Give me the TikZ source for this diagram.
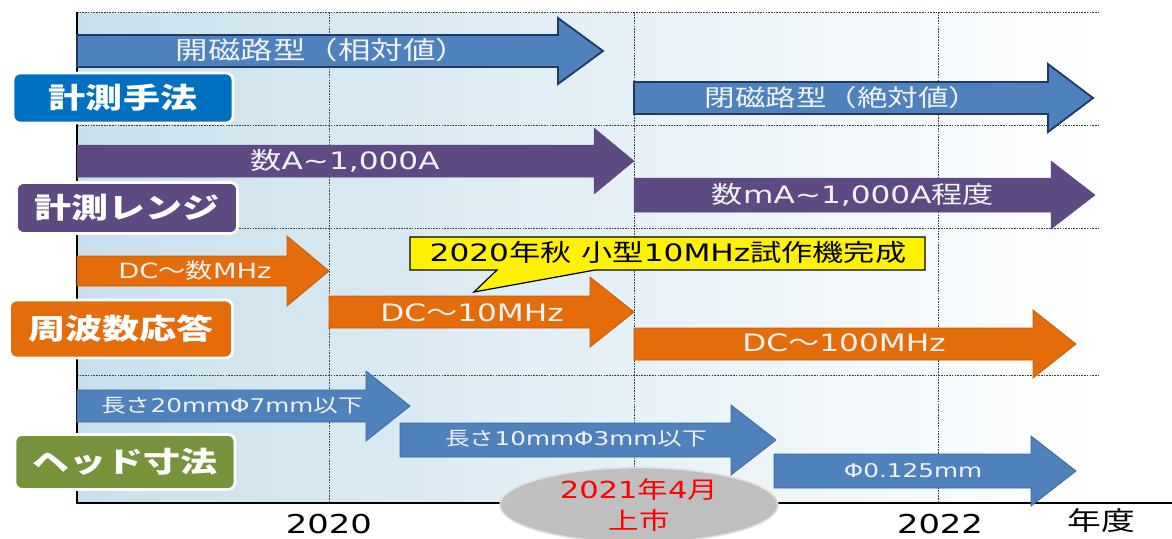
\documentclass[tikz,border=0pt]{standalone}
\usepackage{fontspec}
\setmainfont{DejaVu Sans}[FakeStretch=1.3]
\newfontfamily\ja{Noto Sans CJK JP}[FakeStretch=1.3]
\usepackage{tikz}
\usetikzlibrary{shapes.geometric,shadows}
\definecolor{hblue}{HTML}{4F81BD}
\definecolor{hnavy}{HTML}{1F3864}
\definecolor{hpurple}{HTML}{5E4A82}
\definecolor{horange}{HTML}{E46C0A}
\definecolor{hgreen}{HTML}{77933C}
\definecolor{hcat}{HTML}{0070C0}
\definecolor{hbg}{HTML}{C9E0EC}
\definecolor{hgray}{HTML}{BFBFBF}

\begin{document}
\begin{tikzpicture}[x=1pt,y=-1pt,
  gridln/.style={black!75,line width=0.6pt,dash pattern=on 1.6pt off 1.1pt},
  arrnavy/.style={fill=hblue,draw=hnavy,line width=1.8pt},
  arrblue/.style={fill=hblue,draw=hblue!80!black,line width=0.8pt},
  arrpurple/.style={fill=hpurple,draw=hpurple,line width=0.5pt},
  arrorange/.style={fill=horange,draw=horange!85!black,line width=0.8pt},
  lbl/.style={text=white!95!black,inner sep=0pt},
  cat/.style={rounded corners=7pt,draw=white,line width=2.8pt,text=white,
    minimum width=220pt,minimum height=50pt,inner sep=0pt,
    font=\ja\bfseries\fontsize{28.5}{30}\selectfont,
    drop shadow={opacity=0.3,shadow xshift=0.8pt,shadow yshift=-1.2pt}},
  yr/.style={inner sep=0pt,font=\fontsize{26}{28}\selectfont}]
\useasboundingbox (0,0) rectangle (1172,538);

% background and grid
\shade[left color=hbg,right color=white] (77,12) rectangle (1100,503);
\foreach \y in {12,125,228,375}
  \draw[gridln] (77,\y) -- (1100,\y);
\foreach \x in {329,634,938}
  \draw[gridln] (\x,12) -- (\x,503);
\draw[line width=1.8pt] (77,12) -- (77,503) -- (1172,503);

% row 1
\draw[arrnavy] (77,35) -- (558,35) -- (558,18) -- (603,51) -- (558,84) -- (558,67) -- (77,67) -- cycle;
\draw[arrnavy] (634,82) -- (1048,82) -- (1048,64) -- (1093,98) -- (1048,132) -- (1048,114) -- (634,114) -- cycle;
% row 2
\draw[arrpurple] (77,145) -- (594,145) -- (594,128) -- (634,161) -- (594,194) -- (594,177) -- (77,177) -- cycle;
\draw[arrpurple] (634,178) -- (1051,178) -- (1051,161) -- (1095,195) -- (1051,229) -- (1051,212) -- (634,212) -- cycle;
% row 3
\draw[arrorange] (77,256) -- (287,256) -- (287,236) -- (329,271) -- (287,306) -- (287,286) -- (77,286) -- cycle;
\draw[arrorange] (329,296) -- (590,296) -- (590,277) -- (634,312) -- (590,347) -- (590,328) -- (329,328) -- cycle;
\draw[arrorange] (634,328) -- (1033,328) -- (1033,310) -- (1076,344) -- (1033,378) -- (1033,360) -- (634,360) -- cycle;
% row 4
\draw[arrblue] (77,390) -- (366,390) -- (366,371) -- (410,406) -- (366,441) -- (366,422) -- (77,422) -- cycle;
\draw[arrblue] (400,423) -- (731,423) -- (731,405) -- (776,440) -- (731,475) -- (731,457) -- (400,457) -- cycle;
\draw[arrblue] (774,454) -- (1031,454) -- (1031,436) -- (1076,471) -- (1031,506) -- (1031,488) -- (774,488) -- cycle;

% arrow labels
\node[lbl,font=\ja\fontsize{25}{27}\selectfont] (open) at (322,50) {開磁路型（相対値）};
\node[lbl,font=\ja\fontsize{23.5}{26}\selectfont] (closed) at (842,98) {閉磁路型（絶対値）};
\node[lbl,font=\fontsize{24}{26}\selectfont] (rngA) at (345,161) {{\ja 数}A\textasciitilde 1,000A};
\node[lbl,font=\fontsize{24}{26}\selectfont] (rngmA) at (853,195) {{\ja 数}mA\textasciitilde 1,000A{\ja 程度}};
\node[lbl,font=\fontsize{21}{24}\selectfont] (fMHz) at (195,271) {DC{\ja ～数}MHz};
\node[lbl,font=\fontsize{24}{26}\selectfont] (f10) at (472,313) {DC{\ja ～}10MHz};
\node[lbl,font=\fontsize{24}{26}\selectfont] (f100) at (844,343) {DC{\ja ～}100MHz};
\node[lbl,font=\fontsize{19}{22}\selectfont] (h20) at (232,406) {{\ja 長さ}20mmΦ7mm{\ja 以下}};
\node[lbl,font=\fontsize{19}{22}\selectfont] (h10) at (576,439) {{\ja 長さ}10mmΦ3mm{\ja 以下}};
\node[lbl,font=\fontsize{19}{22}\selectfont] (h0125) at (913,471) {Φ0.125mm};

% category boxes
\node[cat,fill=hcat] (meth) at (123,98) {計測手法};
\node[cat,fill=hpurple,minimum width=221pt,minimum height=51pt] (rng) at (127,208) {計測レンジ};
\node[cat,fill=horange,minimum width=223pt,minimum height=58pt] (freq) at (121,329) {周波数応答};
\node[cat,fill=hgreen,minimum height=55pt] (head) at (125,462) {ヘッド寸法};

% callout
\draw[fill=yellow,line width=1.2pt,line join=miter] (410,237) -- (925,237) -- (925,270) -- (595,270) -- (474,292) -- (497,270) -- (410,270) -- cycle;
\node[inner sep=0pt,font=\fontsize{24}{26}\selectfont] (note) at (668,252) {2020{\ja 年秋} {\ja 小型}10MHz{\ja 試作機完成}};

% launch
\node[ellipse,fill=hgray,draw=black!12,line width=1.5pt,minimum width=278pt,minimum height=72pt,
  inner sep=0pt,align=center,text=red,font=\fontsize{23.5}{31}\selectfont] (launch) at (639,505)
  {2021{\ja 年}4{\ja 月}\\{\ja 上市}};

% axis labels
\node[yr] (y2020) at (329,524) {2020};
\node[yr] (y2022) at (940,524) {2022};
\node[yr,font=\ja\fontsize{26}{28}\selectfont] (unit) at (1101,521) {年度};
\end{tikzpicture}
\end{document}
